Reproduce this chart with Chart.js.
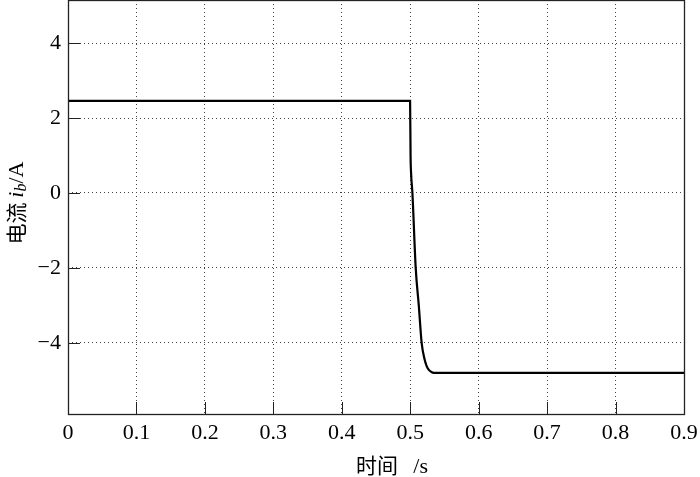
<!DOCTYPE html>
<html><head><meta charset="utf-8">
<script src="https://cdn.jsdelivr.net/npm/chart.js@4.4.0/dist/chart.umd.min.js"></script>
<style>html,body{margin:0;padding:0;background:#fff}#wrap{width:700px;height:477px}</style>
</head><body><div id="wrap"><canvas id="c" width="700" height="477"></canvas></div>
<script>
const timeS = [0, 0.4998, 0.5005, 0.5012, 0.5032, 0.508, 0.5125, 0.5167, 0.5207, 0.524, 0.5275, 0.531, 0.5345, 0.538, 0.9];
const currentA = [2.46, 2.46, 1.0, 0.55, 0.0, -2.0, -3.0, -4.0, -4.42, -4.62, -4.73, -4.78, -4.8, -4.8, -4.8];
const xTicks = [0, 0.1, 0.2, 0.3, 0.4, 0.5, 0.6, 0.7, 0.8, 0.9];
const yTicks = [-4, -2, 0, 2, 4];
const xTitleParts = ['时间', '/s'];
const yTitleParts = ['电流 ', 'i', 'b', '/A'];

const FONT = '"Liberation Serif", "Times New Roman", serif';
const CJK = '"Noto Sans CJK SC", "Liberation Serif", serif';

const decor = {
  id: 'decor',
  afterDraw(chart) {
    const {ctx, chartArea: a, scales: {x, y}} = chart;
    ctx.save();
    ctx.strokeStyle = '#222';
    ctx.lineWidth = 1;
    ctx.beginPath();
    xTicks.forEach(v => { const px = Math.round(x.getPixelForValue(v)) + 0.5; ctx.moveTo(px, a.bottom); ctx.lineTo(px, a.bottom - 12); });
    yTicks.forEach(v => { const py = Math.round(y.getPixelForValue(v)) + 0.5; ctx.moveTo(a.left, py); ctx.lineTo(a.left + 12, py); });
    ctx.stroke();
    ctx.lineWidth = 1.3;
    ctx.strokeRect(Math.round(a.left) + 0.5, Math.round(a.top) + 0.5, Math.round(a.right - a.left), Math.round(a.bottom - a.top));
    // x title
    ctx.fillStyle = '#000';
    ctx.textBaseline = 'middle';
    ctx.textAlign = 'left';
    ctx.font = '21px ' + CJK;
    ctx.fillText(xTitleParts[0], 356, 465);
    ctx.font = '22px ' + FONT;
    const ws = ctx.measureText(xTitleParts[1]).width;
    ctx.fillText(xTitleParts[1], 428 - ws, 467);
    // y title rotated
    ctx.translate(16, 203);
    ctx.rotate(-Math.PI / 2);
    const fonts = ['21px ' + CJK, 'italic 22px ' + FONT, 'italic 16px ' + FONT, '22px ' + FONT];
    const offs = [0, 1, 6, 1];
    const widths = yTitleParts.map((t, i) => { ctx.font = fonts[i]; return ctx.measureText(t).width; });
    const total = widths.reduce((s, v) => s + v, 0);
    let cx = -total / 2;
    yTitleParts.forEach((t, i) => { ctx.font = fonts[i]; ctx.fillText(t, cx, offs[i]); cx += widths[i]; });
    ctx.restore();
  }
};

const zeroPad = s => { s.paddingTop = 0; s.paddingBottom = 0; s.paddingLeft = 0; s.paddingRight = 0; };

new Chart(document.getElementById('c'), {
  type: 'line',
  data: { datasets: [{ data: timeS.map((t, i) => ({x: t, y: currentA[i]})), borderColor: '#000', borderWidth: 2.2, pointRadius: 0, fill: false, cubicInterpolationMode: 'monotone' }] },
  options: {
    responsive: false, animation: false, devicePixelRatio: 1,
    layout: { padding: { top: 0, right: 16, left: 0, bottom: 0 } },
    plugins: { legend: { display: false }, tooltip: { enabled: false } },
    scales: {
      x: {
        type: 'linear', min: 0, max: 0.9,
        afterBuildTicks: s => { s.ticks = xTicks.map(v => ({value: v})); },
        afterFit: s => { s.height = 63; zeroPad(s); },
        grid: { color: '#444', lineWidth: 1, drawTicks: false },
        border: { display: false, dash: [1, 3] },
        ticks: { color: '#000', font: { family: FONT, size: 22 }, padding: 6, maxRotation: 0, callback: v => String(v) }
      },
      y: {
        type: 'linear', min: -5.9, max: 5.15,
        afterBuildTicks: s => { s.ticks = yTicks.map(v => ({value: v})); },
        afterFit: s => { s.width = 68; zeroPad(s); },
        grid: { color: '#444', lineWidth: 1, drawTicks: false },
        border: { display: false, dash: [1, 3] },
        ticks: { color: '#000', font: { family: FONT, size: 22 }, padding: 7, callback: v => String(v).replace('-', '\u2212') }
      }
    }
  },
  plugins: [decor]
});
</script></body></html>
